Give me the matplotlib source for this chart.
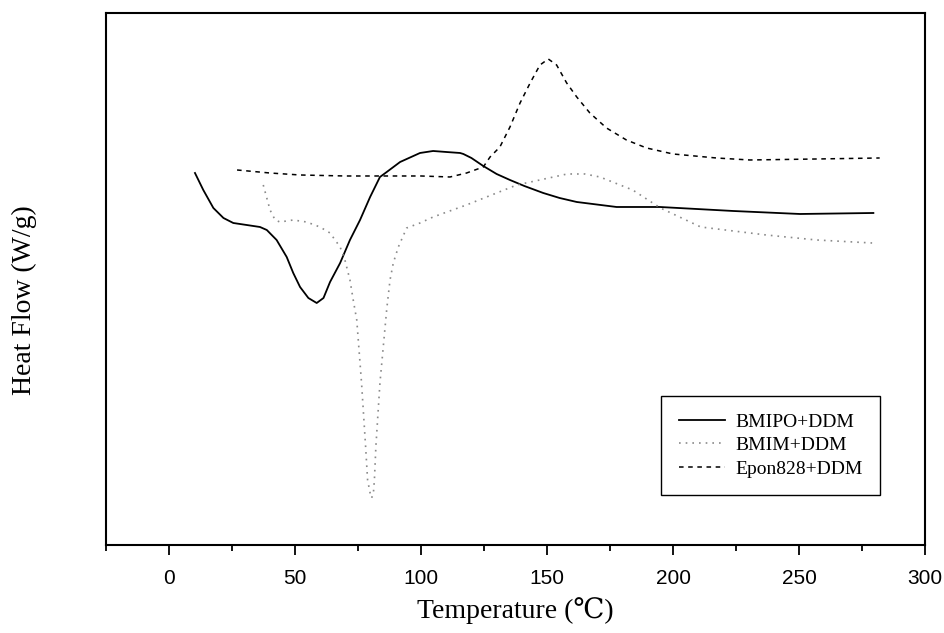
import numpy as np
import matplotlib.pyplot as plt
from matplotlib.ticker import MultipleLocator

# DSC curves, heat flow in arbitrary units (exo up)
temp_bmipo = [10.3, 13.6, 17.6, 21.6, 25.5, 30.8, 36.1, 38.8, 42.7, 46.7, 49.3, 52, 55.3, 58.6,
              61.3, 63.9, 67.9, 71.8, 75.8, 79.8, 83.7, 86.4, 91.7, 99.6, 104.8, 110, 115.5,
              116.8, 120, 124.7, 130, 135.3, 141, 148.5, 155, 161.8, 177.6, 194.8, 223.9,
              250.4, 279.5]
hf_bmipo = [3.72, 3.55, 3.37, 3.27, 3.22, 3.20, 3.18, 3.15, 3.05, 2.88, 2.72, 2.58, 2.47, 2.42,
            2.47, 2.63, 2.82, 3.05, 3.25, 3.48, 3.68, 3.73, 3.83, 3.92, 3.94, 3.93, 3.92,
            3.91, 3.87, 3.79, 3.71, 3.65, 3.59, 3.52, 3.47, 3.43, 3.38, 3.38, 3.34,
            3.31, 3.32]

temp_bmim = [37.4, 38.8, 40.1, 42.1, 44, 49.3, 54.6, 59.9, 63.9, 67.9, 69.8, 71.8, 73.1, 74.5,
             76.4, 78, 78.8, 79.8, 80.4, 81.1, 81.5, 82.1, 83.7, 86.4, 87.7, 89, 91, 94.3,
             99.6, 104.8, 118, 131, 138, 158, 165, 171, 184, 195, 211, 237, 257, 279]
hf_bmim = [3.60, 3.47, 3.35, 3.25, 3.23, 3.25, 3.23, 3.18, 3.12, 2.98, 2.85, 2.65, 2.45, 2.25,
           1.62, 0.99, 0.65, 0.52, 0.47, 0.52, 0.65, 0.99, 1.62, 2.36, 2.65, 2.82, 2.98, 3.17,
           3.22, 3.28, 3.40, 3.53, 3.60, 3.71, 3.71, 3.68, 3.55, 3.37, 3.18, 3.10, 3.05, 3.02]

temp_epon = [27, 40, 52, 70, 84, 100, 111.5, 118.1, 124.7, 127.4, 131.3, 135.3, 139.3, 143.3,
             147.2, 150.5, 153.8, 157.8, 161.8, 167, 173.6, 181.5, 189.5, 200, 217.2, 230.5,
             257, 282]
hf_epon = [3.75, 3.72, 3.70, 3.69, 3.69, 3.69, 3.68, 3.72, 3.78, 3.88, 3.98, 4.18, 4.42, 4.62,
           4.80, 4.86, 4.80, 4.62, 4.48, 4.32, 4.17, 4.05, 3.97, 3.91, 3.87, 3.85,
           3.86, 3.87]

labels = ['BMIPO+DDM', 'BMIM+DDM', 'Epon828+DDM']

fig = plt.figure(figsize=(9.44, 6.33), dpi=100)
ax = fig.add_axes([0.1123, 0.139, 0.8676, 0.8405])

ax.plot(temp_bmipo, hf_bmipo, color='black', lw=1.3, label=labels[0])
ax.plot(temp_bmim, hf_bmim, color='#8a8a8a', lw=1.2, ls=(0, (1, 3)), label=labels[1])
ax.plot(temp_epon, hf_epon, color='black', lw=1.1, ls=(0, (3, 3)), label=labels[2])

ax.set_xlim(-25, 300)
ax.set_ylim(0, 5.32)
ax.xaxis.set_major_locator(MultipleLocator(50))
ax.xaxis.set_minor_locator(MultipleLocator(25))
ax.tick_params(axis='x', which='major', direction='out', length=7, width=1.3, labelsize=15, pad=10)
ax.tick_params(axis='x', which='minor', direction='out', length=4, width=1.3)
ax.set_yticks([])
for lab in ax.get_xticklabels():
    lab.set_fontfamily('Liberation Sans')
for sp in ax.spines.values():
    sp.set_linewidth(1.5)

serif = ['Liberation Serif', 'DejaVu Serif']
ax.set_xlabel('Temperature (\u2103)', family=serif, fontsize=20, labelpad=7)
ax.set_ylabel('Heat Flow (W/g)', family=serif, fontsize=20)
ax.yaxis.set_label_coords(-0.084, 0.46)

leg = ax.legend(loc='lower right', bbox_to_anchor=(0.945, 0.094), borderaxespad=0,
                prop={'family': serif, 'size': 14}, fancybox=False, framealpha=1,
                edgecolor='black', handlelength=2.4, handletextpad=0.5,
                borderpad=0.9, labelspacing=0.3)
leg.get_frame().set_linewidth(1.0)

fig.savefig('out.png', dpi=100)
